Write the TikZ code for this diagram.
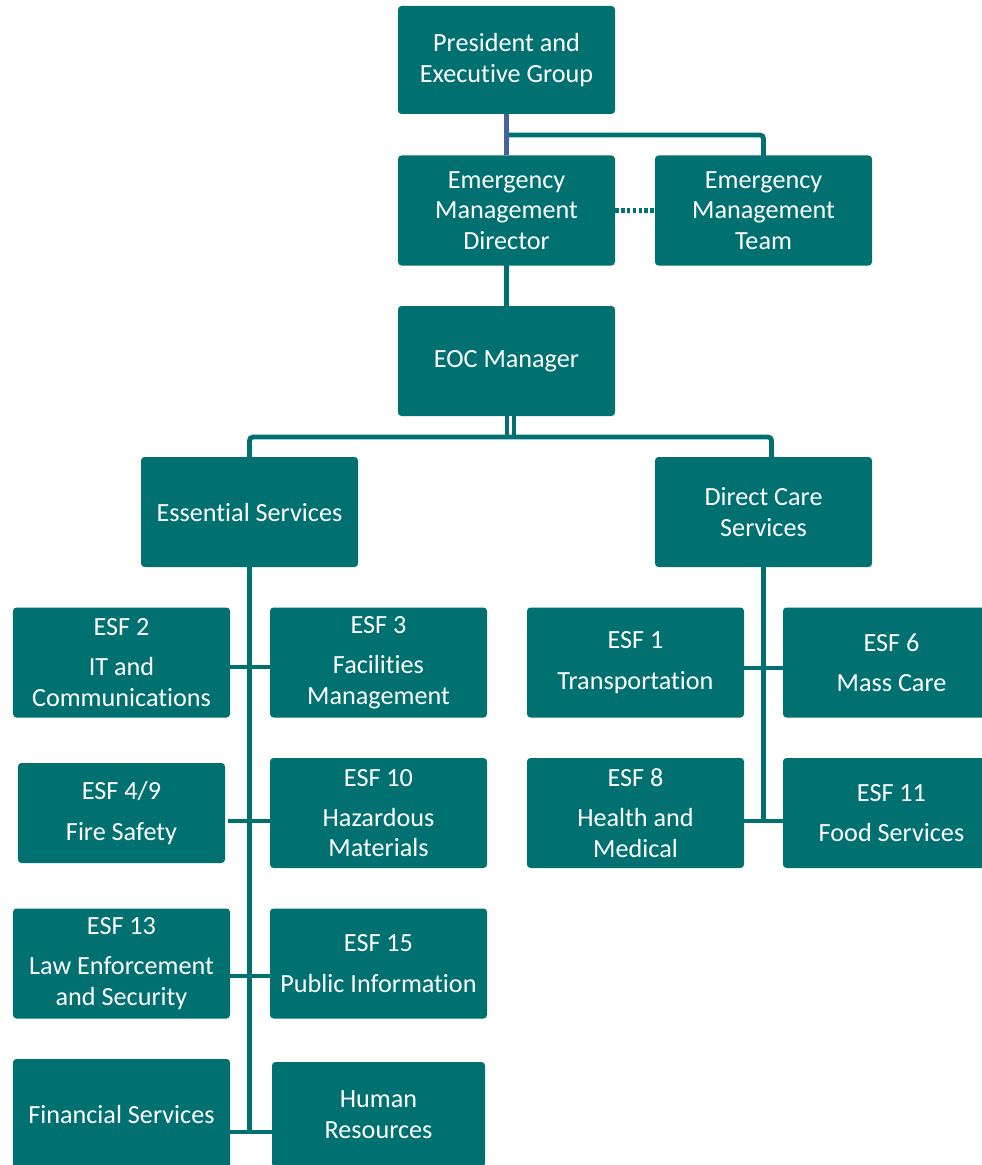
\documentclass[tikz,border=0pt]{standalone}
\usepackage{fontspec}
\setmainfont{Carlito}[Ligatures=NoCommon]
\definecolor{eocteal}{RGB}{0, 112, 112}
\definecolor{execblue}{RGB}{69, 98, 158}
\usepackage{tikz}
\usetikzlibrary{positioning, calc}

\begin{document}
\begin{tikzpicture}[
  unit/.style={fill=eocteal, text=white, rounded corners=2pt, minimum width=4.34cm, minimum height=2.2cm, inner sep=0pt, align=center, font=\fontsize{14.9pt}{17.3pt}\selectfont},
  link/.style={draw=eocteal, line width=2.7pt, line cap=rect}
]
  \useasboundingbox (0, 0) rectangle (19.64, -23.30);
  \clip (0, 0) rectangle (19.64, -23.30);

  % Executive level
  \node[unit, minimum height=2.16cm] (pres) at (10.13, -1.20) {President and\\Executive Group};
  \node[unit] (emd) at (10.13, -4.21) {Emergency\\Management\\Director};
  \node[unit] (emt) at (15.27, -4.21) {Emergency\\Management\\Team};
  \node[unit] (eoc) at (10.13, -7.22) {EOC Manager};

  % Branches
  \node[unit] (ess) at (4.99, -10.24) {Essential Services};
  \node[unit] (dcs) at (15.27, -10.24) {Direct Care\\Services};

  % Essential Services functions
  \node[unit] (esf2) at (2.43, -13.25) {ESF 2\\[5.7pt]IT and\\Communications};
  \node[unit] (esf3) at (7.57, -13.25) {ESF 3\\[5.7pt]Facilities\\Management};
  \node[unit, minimum width=4.14cm, minimum height=2.0cm] (esf49) at (2.43, -16.26) {ESF 4/9\\[5.7pt]Fire Safety};
  \node[unit] (esf10) at (7.57, -16.26) {ESF 10\\[5.7pt]Hazardous\\Materials};
  \node[unit] (esf13) at (2.43, -19.27) {ESF 13\\[5.7pt]Law Enforcement\\and Security};
  \node[unit] (esf15) at (7.57, -19.27) {ESF 15\\[5.7pt]Public Information};
  \node[unit] (fin) at (2.43, -22.28) {Financial Services};
  \node[unit, minimum width=4.26cm, minimum height=2.1cm] (hr) at (7.57, -22.29) {Human\\Resources};

  % Direct Care functions
  \node[unit] (esf1) at (12.71, -13.25) {ESF 1\\[5.7pt]Transportation};
  \node[unit] (esf6) at (17.83, -13.25) {ESF 6\\[5.7pt]Mass Care};
  \node[unit] (esf8) at (12.71, -16.26) {ESF 8\\[5.7pt]Health and\\Medical};
  \node[unit] (esf11) at (17.83, -16.26) {ESF 11\\[5.7pt]Food Services};

  % Top connectors
  \coordinate (teamsplit) at (10.13, -2.70);
  \draw[link, rounded corners=2pt] (teamsplit) -| (emt.north);
  \draw[execblue, line width=2.8pt] (pres) -- (emd);
  \draw[link, line cap=butt, line width=2.3pt, dash pattern=on 2pt off 1.3pt] (emd) -- (emt);
  \draw[link] (emd) -- (eoc);

  % EOC to branches
  \coordinate (eocsplit) at (10.21, -8.74);
  \coordinate (carein) at ($(dcs.north)+(0.16, 0)$);
  \draw[eocteal, line width=2.1pt, double=white, double distance=2.1pt] (eoc.south -| eocsplit) -- (eocsplit);
  \draw[link, rounded corners=2pt] (ess.north) |- (eocsplit) -| (carein);

  % Essential Services column
  \coordinate (er1) at (4.99, -13.34);
  \coordinate (er2) at (4.99, -16.42);
  \coordinate (er3) at (4.99, -19.52);
  \coordinate (er4) at (4.99, -22.64);
  \draw[link] (ess.south) -- (er4);
  \draw[link] (esf2.east |- er1) -- (esf3.west |- er1);
  \draw[link] ($(esf49.east |- er2)+(0.1, 0)$) -- (esf10.west |- er2);
  \draw[link] (esf13.east |- er3) -- (esf15.west |- er3);
  \draw[link] (fin.east |- er4) -- (hr.west |- er4);

  % Direct Care column
  \coordinate (dr1) at (15.27, -13.36);
  \coordinate (dr2) at (15.27, -16.42);
  \draw[link] (dcs.south) -- (dr2);
  \draw[link] (esf1.east |- dr1) -- (esf6.west |- dr1);
  \draw[link] (esf8.east |- dr2) -- (esf11.west |- dr2);
\end{tikzpicture}
\end{document}
